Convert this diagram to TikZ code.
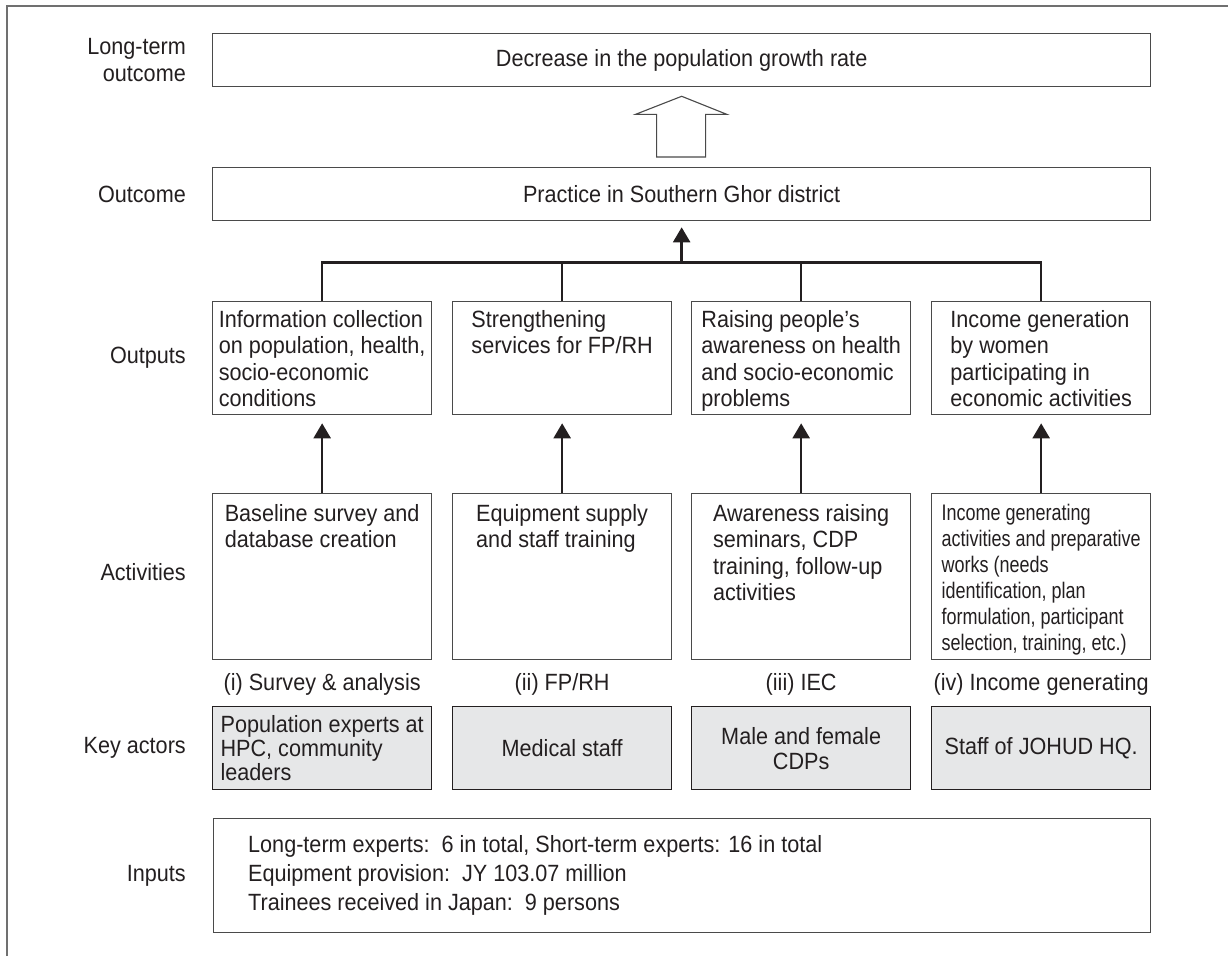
\documentclass[tikz,border=0pt]{standalone}
\usepackage{fontspec}
\setmainfont{Liberation Sans}[FakeStretch=0.92]
\newfontfamily\squeezed{Liberation Sans}[FakeStretch=0.80]
\usetikzlibrary{arrows.meta,calc}
\definecolor{ink}{HTML}{231F20}
\definecolor{rule}{HTML}{4A4A4A}
\definecolor{framegray}{HTML}{707070}
\definecolor{actorfill}{HTML}{E6E7E8}

\begin{document}
\begin{tikzpicture}[x=1pt,y=-1pt,
  every node/.style={text=ink, inner sep=0pt, font=\fontsize{23.5}{26.5}\selectfont},
  widebox/.style={draw=rule, line width=1.3pt, anchor=north west,
    minimum width=938pt, minimum height=53pt},
  colbox/.style={draw=rule, line width=1.3pt, anchor=north west,
    minimum width=219pt, minimum height=#1},
  actorbox/.style={colbox=83pt, draw=ink, fill=actorfill},
  toptext/.style={anchor=north, align=left},
  rowlabel/.style={anchor=east, align=right},
  conn/.style={draw=ink, line width=2.4pt, -{Triangle[length=15pt,width=17pt]}},
  bus/.style={draw=ink, line width=2.4pt},
  hollow/.style={draw=rule, line width=1.1pt, fill=white, line join=miter}
]
\useasboundingbox (0,0) rectangle (1228,956);

% outer frame, open to the right and below
\draw[framegray, line width=2pt] (7,956) -- (7,6) -- (1228,6);

% goal and outcome
\node[widebox] (goal) at (212,33) {Decrease in the population growth rate};
\node[widebox] (outcome) at (212,167) {Practice in Southern Ghor district};

% outputs
\node[colbox=113pt] (out1) at (212,301) {};
\node[colbox=113pt] (out2) at (452,301) {};
\node[colbox=113pt] (out3) at (691,301) {};
\node[colbox=113pt] (out4) at (931,301) {};
\node[toptext] (out1t) at ($(out1.north)+(0,9)$)
  {Information collection\\on population, health,\\socio-economic\\conditions};
\node[toptext] (out2t) at ($(out2.north)+(0,9)$)
  {Strengthening\\services for FP/RH};
\node[toptext] (out3t) at ($(out3.north)+(0,9)$)
  {Raising people’s\\awareness on health\\and socio-economic\\problems};
\node[toptext] (out4t) at ($(out4.north)+(0,9)$)
  {Income generation\\by women\\participating in\\economic activities};

% activities
\node[colbox=166pt] (act1) at (212,493) {};
\node[colbox=166pt] (act2) at (452,493) {};
\node[colbox=166pt] (act3) at (691,493) {};
\node[colbox=166pt] (act4) at (931,493) {};
\node[toptext] (act1t) at ($(act1.north)+(0,11)$)
  {Baseline survey and\\database creation};
\node[toptext] (act2t) at ($(act2.north)+(0,11)$)
  {Equipment supply\\and staff training};
\node[toptext] (act3t) at ($(act3.north)+(0,11)$)
  {Awareness raising\\seminars, CDP\\training, follow-up\\activities};
\node[toptext, font=\squeezed\fontsize{22.5}{26}\selectfont] (act4t) at ($(act4.north)+(0,11)$)
  {Income generating\\activities and preparative\\works (needs\\identification, plan\\formulation, participant\\selection, training, etc.)};

% component names
\node (comp1) at ($(act1.south)+(0,24)$) {(i) Survey \& analysis};
\node (comp2) at ($(act2.south)+(0,24)$) {(ii) FP/RH};
\node (comp3) at ($(act3.south)+(0,24)$) {(iii) IEC};
\node (comp4) at ($(act4.south)+(0,24)$) {(iv) Income generating};

% key actors
\node[actorbox] (key1) at (212,706) {};
\node[actorbox] (key2) at (452,706) {};
\node[actorbox] (key3) at (691,706) {};
\node[actorbox] (key4) at (931,706) {};
\node[align=left, font=\fontsize{23.5}{24}\selectfont] (key1t) at (key1.center)
  {Population experts at\\HPC, community\\leaders};
\node (key2t) at (key2.center) {Medical staff};
\node[align=center, font=\fontsize{23.5}{25}\selectfont] (key3t) at (key3.center)
  {Male and female\\CDPs};
\node (key4t) at (key4.center) {Staff of JOHUD HQ.};

% inputs
\node[draw=rule, line width=1.3pt, anchor=north west,
  minimum width=937pt, minimum height=114pt] (inputs) at (213,818) {};
\node[anchor=west, align=left, font=\fontsize{23.5}{29}\selectfont] (inputst)
  at ($(inputs.west)+(35,0)$)
  {Long-term experts:\ \ 6 in total, Short-term experts: 16 in total\\
   Equipment provision:\ \ JY 103.07 million\\
   Trainees received in Japan:\ \ 9 persons};

% row labels
\node[rowlabel] (lgoal) at ($(goal.west)+(-26,0)$) {Long-term\\outcome};
\node[rowlabel] (loutcome) at ($(outcome.west)+(-26,0)$) {Outcome};
\node[rowlabel] (loutputs) at ($(out1.west)+(-26,0)$) {Outputs};
\node[rowlabel] (lacts) at ($(act1.west)+(-26,-5)$) {Activities};
\node[rowlabel] (lkeys) at ($(key1.west)+(-26,0)$) {Key actors};
\node[rowlabel] (linputs) at ($(inputs.west)+(-27,0)$) {Inputs};

% activities lead to outputs
\foreach \i in {1,...,4}
  \draw[conn, shorten >=8pt] (act\i.north) -- (out\i.south);

% outputs gathered into the outcome
\coordinate (busmid) at ($(outcome.south)+(0,41)$);
\draw[bus] (out1.north) |- (busmid) -| (out4.north);
\draw[bus] (out2.north) -- (out2.north |- busmid);
\draw[bus] (out3.north) -- (out3.north |- busmid);
\draw[conn, shorten >=6pt] (busmid) -- (outcome.south);

% block arrow from outcome to long-term outcome
\coordinate (blkbase) at ($(outcome.north)+(0,-10)$);
\coordinate (blktip) at ($(goal.south)+(0,9)$);
\draw[hollow] ($(blkbase)+(-25,0)$) -- ($(blktip)+(-25,18)$) -- ($(blktip)+(-46,18)$)
  -- (blktip) -- ($(blktip)+(45,18)$) -- ($(blktip)+(24,18)$)
  -- ($(blkbase)+(24,0)$) -- cycle;
\end{tikzpicture}
\end{document}
